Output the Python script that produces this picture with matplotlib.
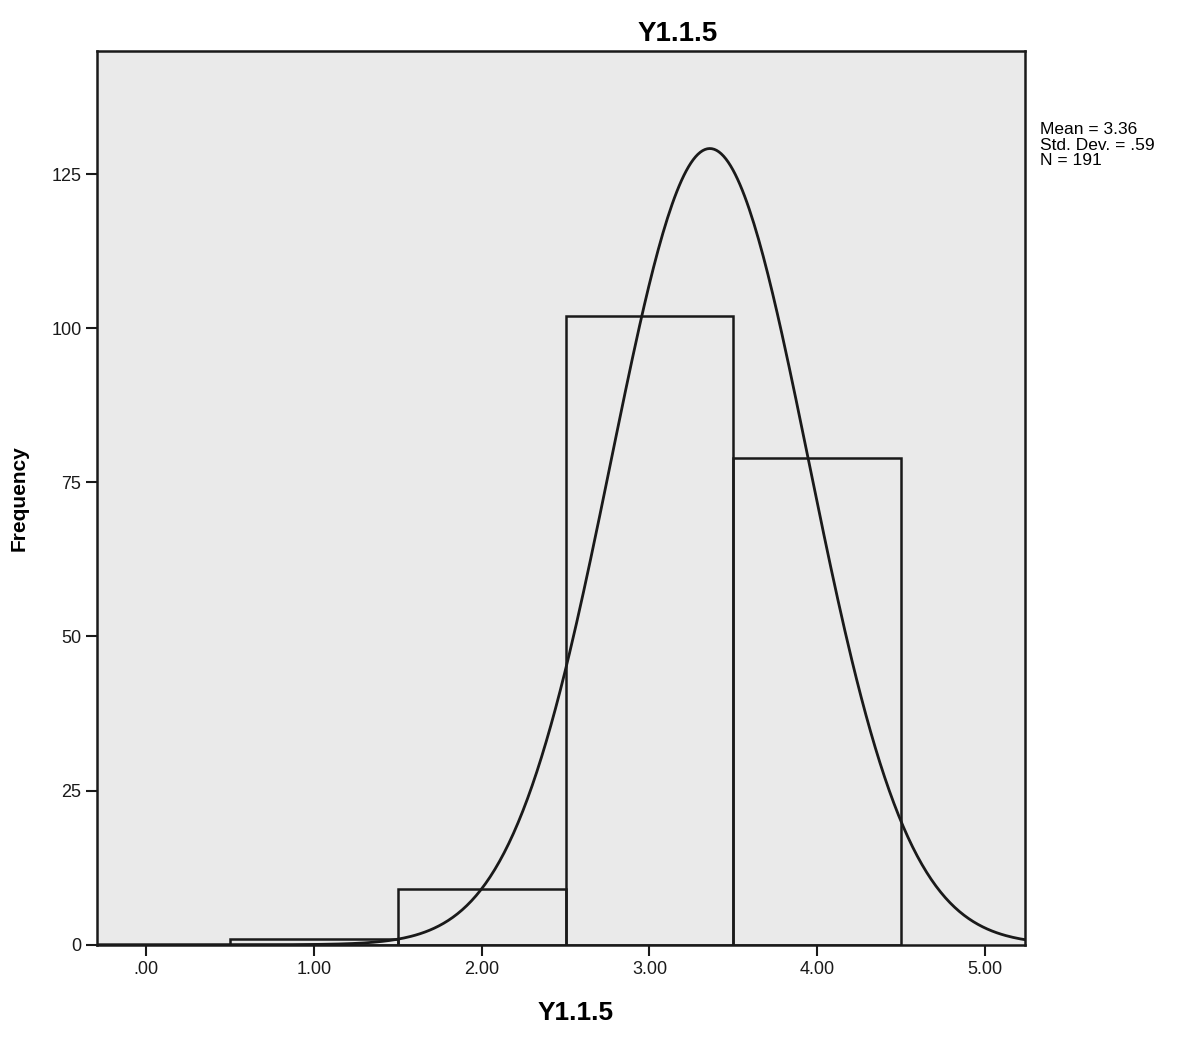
import matplotlib.pyplot as plt
import numpy as np

plt.rcParams['font.family'] = ['Liberation Sans', 'DejaVu Sans']

# histogram of Y1.1.5 (bin edges / counts)
bin_edges = [0.5, 1.5, 2.5, 3.5, 4.5]
counts = [1, 9, 102, 79]
mean = 3.36
std_dev = 0.59
n = 191

x_ticks = [0, 1, 2, 3, 4, 5]
x_ticklabels = ['.00', '1.00', '2.00', '3.00', '4.00', '5.00']
y_ticks = [0, 25, 50, 75, 100, 125]

fig = plt.figure(figsize=(12.02, 10.37), dpi=100)
ax = fig.add_axes([0.081, 0.089, 0.772, 0.862])
ax.set_facecolor('#eaeaea')

widths = np.diff(bin_edges)
ax.bar(bin_edges[:-1], counts, width=widths, align='edge',
       facecolor='none', edgecolor='#1a1a1a', linewidth=1.8)

# normal curve scaled to the counts
xs = np.linspace(-0.3, 5.25, 400)
bw = widths[0]
ys = n * bw / (std_dev * np.sqrt(2 * np.pi)) * np.exp(-0.5 * ((xs - mean) / std_dev) ** 2)
ax.plot(xs, ys, color='#1a1a1a', linewidth=2)

ax.set_xlim(-0.29, 5.24)
ax.set_ylim(0, 145)
ax.set_xticks(x_ticks)
ax.set_xticklabels(x_ticklabels)
ax.set_yticks(y_ticks)
ax.tick_params(direction='out', length=8, width=1.5, labelsize=13, colors='#1a1a1a')
for s in ax.spines.values():
    s.set_linewidth(1.8)
    s.set_color('#1a1a1a')

ax.set_xlabel('Y1.1.5', fontsize=19, fontweight='bold')
ax.xaxis.set_label_coords(0.515, -0.063)
ax.set_ylabel('Frequency', fontsize=15, fontweight='bold', labelpad=16)
fig.text(678 / 1202, 1 - 34 / 1037, 'Y1.1.5', fontsize=20, fontweight='bold',
         ha='center', va='center')

fig.text(1040 / 1202, 1 - 122 / 1037,
         'Mean = %.2f\nStd. Dev. = .%02d\nN = %d' % (mean, round(std_dev * 100), n),
         fontsize=12.5, ha='left', va='top', linespacing=1.05)

fig.savefig('out.png', dpi=100)
